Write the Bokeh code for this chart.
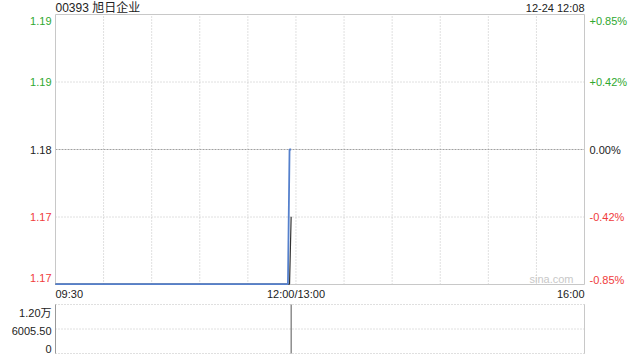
from bokeh.plotting import figure
from bokeh.models import Range1d
from bokeh.core.properties import value
from bokeh.embed import file_html
from bokeh.resources import INLINE

# ---------------- data ----------------
title_text = "00393 旭日企业"
stamp_text = "12-24 12:08"
prev_close = 1.18
pct_span = 0.0085
times = ["09:30", "11:55", "11:56", "11:57"]
price = [1.17, 1.17, 1.18, 1.18]
avg_price = [1.17, 1.17, 1.17, 1.175]
vol_times = ["11:57"]
volume = [12011]
vol_max = 12011
price_labels = ["1.19", "1.19", "1.18", "1.17", "1.17"]
pct_labels = ["+0.85%", "+0.42%", "0.00%", "-0.42%", "-0.85%"]
vol_labels = ["1.20万", "6005.50", "0"]
x_labels = ["09:30", "12:00/13:00", "16:00"]
x_label_times = ["09:30", "12:00", "16:00"]
grid_times = ["10:00", "10:30", "11:00", "11:30", "12:00",
              "13:30", "14:00", "14:30", "15:00", "15:30"]
watermark = "sina.com"


def tmin(s):
    """trading minutes since 09:30 (lunch break removed)"""
    h, m = map(int, s.split(":"))
    t = h * 60 + m
    return t - 570 if t <= 720 else t - 780 + 150


# ---------------- layout (pixels) ----------------
W, H = 640, 360
PL, PR = 55, 584          # plot area left / right
PT, PB = 14, 284          # price panel top / bottom
VT, VB = 304, 353         # volume panel top / bottom

FONT = "Liberation Sans"
CJK_FONT = "Liberation Sans, Noto Sans CJK SC"
GREEN = "#2fa82f"
RED = "#f03c3c"
DARK = "#222222"
GRID = "#c0c0c0"

x_end = tmin("16:00")
y_lo = prev_close * (1 - pct_span)
y_hi = prev_close * (1 + pct_span)

kx = x_end / (PR - PL)
ky = (y_hi - y_lo) / (PB - PT)
kv = vol_max / (VB - VT)

x_range = Range1d(-PL * kx, x_end + (W - PR) * kx)
y_range = Range1d(y_lo - (H - PB) * ky, y_hi + PT * ky)
v_range = Range1d(-(H - VB) * kv, vol_max + VT * kv)


def xd(px):
    return (px - PL) * kx


xs = [tmin(t) for t in times]
vxs = [tmin(t) for t in vol_times]
levels = [y_hi, prev_close * (1 + pct_span / 2), prev_close,
          prev_close * (1 - pct_span / 2), y_lo]
level_colors = [GREEN, GREEN, DARK, RED, RED]

p = figure(width=W, height=H, min_border=0, x_axis_type=None, y_axis_type=None,
           x_range=x_range, y_range=y_range, toolbar_location=None,
           output_backend="svg")
p.extra_y_ranges = {"vol": v_range}
p.outline_line_color = None
p.background_fill_color = "white"
p.border_fill_color = "white"

# ---------------- price panel ----------------
gx = [tmin(t) for t in grid_times]
p.segment(x0=gx, y0=[y_lo] * len(gx), x1=gx, y1=[y_hi] * len(gx),
          line_color=GRID, line_dash="1 2", line_width=1)
hy = [levels[1], levels[3]]
p.segment(x0=[0] * 2, y0=hy, x1=[x_end] * 2, y1=hy,
          line_color=GRID, line_dash="1 2", line_width=1)
p.segment(x0=[0], y0=[prev_close], x1=[x_end], y1=[prev_close],
          line_color="#a0a0a0", line_dash="2 1", line_width=1)
p.quad(left=[0], right=[x_end], bottom=[y_lo], top=[y_hi],
       fill_color=None, line_color="#c8c8c8", line_width=1)

p.line(xs, avg_price, line_color="#333333", line_width=1.2)
p.line(xs, price, line_color="#5580cc", line_width=1.8)

# left / right tick labels (text centre, pixels below each level)
left_shift = [6, 0, 0, 0, -7]
right_shift = [6, 0, 0, 0, -5]
p.text(x=[xd(51)] * 5, y=[lv - s * ky for lv, s in zip(levels, left_shift)],
       text=price_labels, text_color=level_colors, text_align="right",
       text_baseline="middle", text_font=value(FONT), text_font_size="11px")
p.text(x=[xd(589)] * 5, y=[lv - s * ky for lv, s in zip(levels, right_shift)],
       text=pct_labels, text_color=level_colors, text_align="left",
       text_baseline="middle", text_font=value(FONT), text_font_size="11px")

# x labels
p.text(x=[tmin(t) for t in x_label_times], y=[y_lo - 9 * ky] * 3, text=x_labels,
       text_align=["left", "center", "right"], text_color=DARK,
       text_baseline="middle", text_font=value(FONT), text_font_size="11px")

# title and time stamp
p.text(x=[0], y=[y_hi + 6.5 * ky], text=[title_text], text_align="left",
       text_baseline="middle", text_color=DARK,
       text_font=value(CJK_FONT), text_font_size="12px")
p.text(x=[x_end], y=[y_hi + 6.5 * ky], text=[stamp_text], text_align="right",
       text_baseline="middle", text_color=DARK,
       text_font=value(FONT), text_font_size="11px")

# watermark
p.text(x=[xd(573)], y=[y_lo + 6 * ky], text=[watermark], text_align="right",
       text_baseline="middle", text_color="#c8c8c8",
       text_font=value(FONT), text_font_size="11px")

# ---------------- volume panel ----------------
vy = [0, vol_max / 2, vol_max]
p.segment(x0=[0] * 3, y0=vy, x1=[x_end] * 3, y1=vy, y_range_name="vol",
          line_color=GRID, line_dash="1 2", line_width=1)
p.segment(x0=[0], y0=[0], x1=[0], y1=[vol_max], y_range_name="vol",
          line_color="#999999", line_width=1)
p.segment(x0=[x_end], y0=[0], x1=[x_end], y1=[vol_max], y_range_name="vol",
          line_color="#c8c8c8", line_width=1)
p.segment(x0=vxs, y0=[0] * len(vxs), x1=vxs, y1=volume, y_range_name="vol",
          line_color="#555555", line_width=1)

vol_levels = [vol_max, vol_max / 2, 0]
vol_shift = [8, 1.5, -5]
p.text(x=[xd(51)] * 3, y=[lv - s * kv for lv, s in zip(vol_levels, vol_shift)],
       text=vol_labels, text_align="right", text_baseline="middle",
       text_color=DARK, y_range_name="vol",
       text_font=value(CJK_FONT), text_font_size="11px")

open("out.html", "w").write(file_html(p, INLINE))
